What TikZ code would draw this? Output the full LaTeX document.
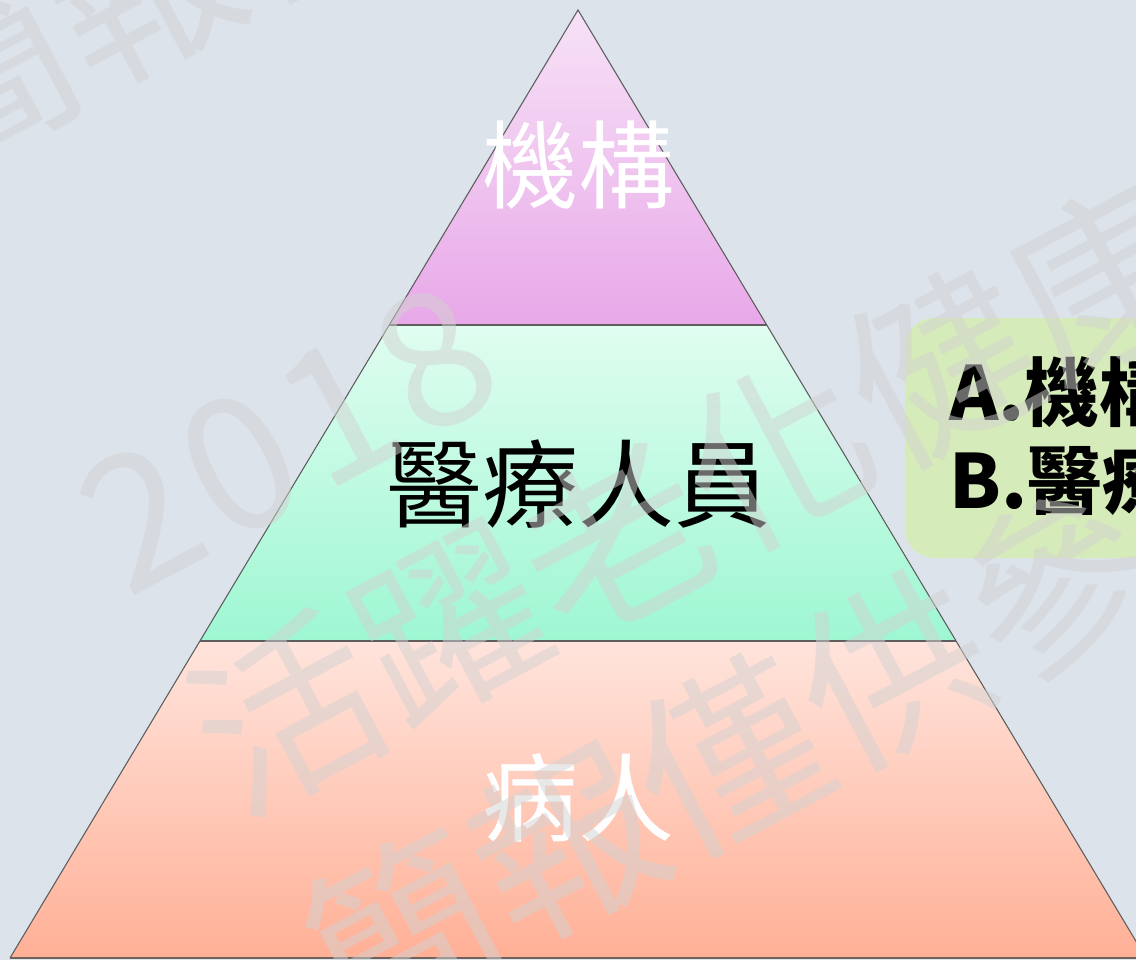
\documentclass[tikz,border=0pt]{standalone}
\usepackage{fontspec}
\newfontfamily\cjk{Noto Sans CJK TC}
\definecolor{bgc}{HTML}{DCE3EB}
\definecolor{topA}{HTML}{F7E2F7}
\definecolor{topB}{HTML}{E8A8E8}
\definecolor{midA}{HTML}{E0FDF0}
\definecolor{midB}{HTML}{9EF7D2}
\definecolor{botA}{HTML}{FFE4DC}
\definecolor{botB}{HTML}{FFB096}
\definecolor{edgec}{HTML}{5E5E5E}
\definecolor{basec}{HTML}{6E625C}
\definecolor{boxc}{HTML}{D5EBB9}
\definecolor{wmc}{HTML}{D2D2D2}
\begin{document}
\begin{tikzpicture}[x=0.75pt,y=-0.75pt,
  lbl/.style={font=\cjk\fontsize{72}{80}\selectfont, inner sep=0pt},
  boxtxt/.style={font=\cjk\bfseries\fontsize{56}{66}\selectfont, inner sep=0pt, anchor=base west, text=black},
  wm/.style={font=\cjk\fontsize{139}{150}\selectfont, text=wmc, text opacity=0.5, rotate=28, inner sep=0pt},
  edge/.style={draw=edgec, line width=0.8pt}]
\useasboundingbox (0,0) rectangle (1136,960);
\fill[bgc] (0,0) rectangle (1136,960);
\begin{scope}
\clip (0,0) rectangle (1136,960);
% pyramid corners
\coordinate (apex) at (578,10);
\coordinate (l1) at (389.3,325);
\coordinate (r1) at (766.7,325);
\coordinate (l2) at (200,641);
\coordinate (r2) at (956,641);
\coordinate (l3) at (10,958);
\coordinate (r3) at (1146,958);
% tiers
\fill[top color=topA, bottom color=topB] (apex) -- (l1) -- (r1) -- cycle;
\fill[top color=midA, bottom color=midB] (l1) -- (l2) -- (r2) -- (r1) -- cycle;
\fill[top color=botA, bottom color=botB] (l2) -- (l3) -- (r3) -- (r2) -- cycle;
% outlines
\draw[edge] (l3) -- (apex) -- (r3);
\draw[edge] (l1) -- (r1);
\draw[edge] (l2) -- (r2);
\draw[draw=basec, line width=1.6pt] (l3) -- (r3);
% labels
\node[lbl, text=white] (t1) at (578,165) {機構};
\node[lbl, text=black] (t2) at (578,484) {醫療人員};
\node[lbl, text=white] (t3) at (578,798) {病人};
% side box
\fill[boxc, rounded corners=22pt] (905,318) rectangle (1220,558);
\node[boxtxt] (ba) at (949,420) {A.機構};
\node[boxtxt] (bb) at (949,508) {B.醫療};
% watermark
\begin{scope}[x={(0.6622pt,0.3521pt)}, y={(0.3521pt,-0.6622pt)}]
  \foreach \c/\u in {2/-117, 0/-6, 1/105, 8/215}
    \node[wm] at (\u,522) {\c};
  \foreach \c [count=\k from 0] in {活,躍,老,化,健,康}
    \node[wm] at ({-81+185*\k},765) {\c};
  \foreach \c [count=\k from 0] in {簡,報,僅,供,參,考}
    \node[wm] at ({-81+185*\k},1010) {\c};
  \foreach \c [count=\k from 0] in {簡,報,僅}
    \node[wm] at ({-53+185*\k},56) {\c};
\end{scope}
\end{scope}
\end{tikzpicture}
\end{document}
